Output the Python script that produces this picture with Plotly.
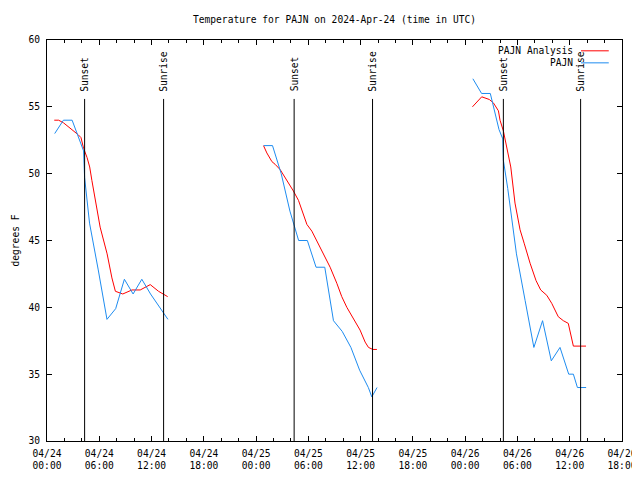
import plotly.graph_objects as go

# ---------------- data ----------------
analysis_times_d1 = ["2024-04-24 00:50", "2024-04-24 01:20", "2024-04-24 01:54", "2024-04-24 02:30",
                     "2024-04-24 03:03", "2024-04-24 03:36", "2024-04-24 03:54", "2024-04-24 04:12",
                     "2024-04-24 04:36", "2024-04-24 04:54", "2024-04-24 05:09", "2024-04-24 05:33",
                     "2024-04-24 06:06", "2024-04-24 06:54", "2024-04-24 07:27", "2024-04-24 07:51",
                     "2024-04-24 08:42", "2024-04-24 09:45", "2024-04-24 10:42", "2024-04-24 11:51",
                     "2024-04-24 12:48", "2024-04-24 13:51"]
analysis_temps_d1 = [54.0, 54.0, 53.8, 53.5, 53.2, 52.9, 52.7, 51.9, 51.2, 50.5, 49.5, 48.0,
                     46.0, 44.0, 42.2, 41.2, 41.0, 41.3, 41.3, 41.7, 41.2, 40.8]

analysis_times_d2 = ["2024-04-25 00:51", "2024-04-25 01:14", "2024-04-25 01:49", "2024-04-25 02:11",
                     "2024-04-25 02:46", "2024-04-25 03:32", "2024-04-25 04:17", "2024-04-25 04:52",
                     "2024-04-25 05:15", "2024-04-25 05:50", "2024-04-25 06:24", "2024-04-25 06:58",
                     "2024-04-25 07:44", "2024-04-25 08:30", "2024-04-25 09:16", "2024-04-25 09:50",
                     "2024-04-25 10:25", "2024-04-25 11:22", "2024-04-25 11:56", "2024-04-25 12:31",
                     "2024-04-25 12:54", "2024-04-25 13:24", "2024-04-25 13:52"]
analysis_temps_d2 = [52.1, 51.55, 50.9, 50.7, 50.3, 49.5, 48.7, 48.0, 47.3, 46.2, 45.7, 45.0,
                     44.0, 43.0, 41.8, 40.8, 40.0, 38.9, 38.3, 37.4, 37.0, 36.85, 36.85]

analysis_times_d3 = ["2024-04-26 00:50", "2024-04-26 01:54", "2024-04-26 02:46", "2024-04-26 03:14",
                     "2024-04-26 03:49", "2024-04-26 04:00", "2024-04-26 04:23", "2024-04-26 04:50",
                     "2024-04-26 05:14", "2024-04-26 05:43", "2024-04-26 06:18", "2024-04-26 06:46",
                     "2024-04-26 07:27", "2024-04-26 08:08", "2024-04-26 08:40", "2024-04-26 09:22",
                     "2024-04-26 09:56", "2024-04-26 10:41", "2024-04-26 11:16", "2024-04-26 11:50",
                     "2024-04-26 12:25", "2024-04-26 13:52"]
analysis_temps_d3 = [55.0, 55.75, 55.55, 55.3, 54.7, 54.0, 53.2, 51.9, 50.5, 47.8, 45.8, 44.8,
                     43.3, 42.0, 41.3, 40.9, 40.3, 39.3, 39.0, 38.8, 37.1, 37.1]

obs_times_d1 = ["2024-04-24 00:53", "2024-04-24 01:53", "2024-04-24 02:53", "2024-04-24 03:53",
                "2024-04-24 04:12", "2024-04-24 04:19", "2024-04-24 04:53", "2024-04-24 05:53",
                "2024-04-24 06:53", "2024-04-24 07:53", "2024-04-24 08:53", "2024-04-24 09:53",
                "2024-04-24 10:53", "2024-04-24 11:53", "2024-04-24 12:53", "2024-04-24 13:53"]
obs_temps_d1 = [53.0, 54.0, 54.0, 52.3, 51.7, 49.7, 46.3, 42.8, 39.1, 39.9, 42.1, 41.0,
                42.1, 41.0, 40.0, 39.1]

obs_times_d2 = ["2024-04-25 00:53", "2024-04-25 01:53", "2024-04-25 02:53", "2024-04-25 03:53",
                "2024-04-25 04:53", "2024-04-25 05:53", "2024-04-25 06:53", "2024-04-25 07:53",
                "2024-04-25 08:53", "2024-04-25 09:53", "2024-04-25 10:53", "2024-04-25 11:53",
                "2024-04-25 12:53", "2024-04-25 13:17", "2024-04-25 13:53"]
obs_temps_d2 = [52.1, 52.1, 50.0, 47.2, 45.0, 45.0, 43.0, 43.0, 39.0, 38.2, 37.0, 35.3,
                34.0, 33.3, 34.0]

obs_times_d3 = ["2024-04-26 00:53", "2024-04-26 01:53", "2024-04-26 02:53", "2024-04-26 03:53",
                "2024-04-26 04:19", "2024-04-26 04:23", "2024-04-26 04:53", "2024-04-26 05:53",
                "2024-04-26 06:53", "2024-04-26 07:53", "2024-04-26 08:53", "2024-04-26 09:53",
                "2024-04-26 10:53", "2024-04-26 11:53", "2024-04-26 12:25", "2024-04-26 12:53",
                "2024-04-26 13:53"]
obs_temps_d3 = [57.1, 56.0, 56.0, 53.3, 52.6, 51.0, 48.9, 44.0, 40.5, 37.0, 39.0, 36.0,
                37.0, 35.0, 35.0, 34.0, 34.0]

sunset_times = ["2024-04-24 04:19", "2024-04-25 04:22", "2024-04-26 04:23"]
sunrise_times = ["2024-04-24 13:23", "2024-04-25 13:22", "2024-04-26 13:15"]

tick_times = ["2024-04-24 00:00", "2024-04-24 06:00", "2024-04-24 12:00", "2024-04-24 18:00",
              "2024-04-25 00:00", "2024-04-25 06:00", "2024-04-25 12:00", "2024-04-25 18:00",
              "2024-04-26 00:00", "2024-04-26 06:00", "2024-04-26 12:00", "2024-04-26 18:00"]
tick_labels = ["04/24<br>00:00", "04/24<br>06:00", "04/24<br>12:00", "04/24<br>18:00",
               "04/25<br>00:00", "04/25<br>06:00", "04/25<br>12:00", "04/25<br>18:00",
               "04/26<br>00:00", "04/26<br>06:00", "04/26<br>12:00", "04/26<br>18:00"]

title_text = "Temperature for PAJN on 2024-Apr-24 (time in UTC)"
y_title = "degrees F"
series_names = ["PAJN Analysis", "PAJN"]
series_colors = ["#ff0000", "#1e8cf0"]

# ---------------- figure ----------------
FONT = "DejaVu Sans Mono"
FS = 9.6
W, H = 632, 472   # page body has an 8px margin in the 640x480 window


def join(*segs):
    xs, ys = [], []
    for t, v in segs:
        if xs:
            xs.append(None)
            ys.append(None)
        xs += t
        ys += v
    return xs, ys


ax, ay = join((analysis_times_d1, analysis_temps_d1), (analysis_times_d2, analysis_temps_d2),
              (analysis_times_d3, analysis_temps_d3))
ox, oy = join((obs_times_d1, obs_temps_d1), (obs_times_d2, obs_temps_d2),
              (obs_times_d3, obs_temps_d3))

fig = go.Figure()
fig.add_trace(go.Scatter(x=ax, y=ay, mode="lines", name=series_names[0],
                         line=dict(color=series_colors[0], width=1), connectgaps=False))
fig.add_trace(go.Scatter(x=ox, y=oy, mode="lines", name=series_names[1],
                         line=dict(color=series_colors[1], width=1), connectgaps=False))

LINE_TOP = 0.853
shapes = []
annotations = []
for times, label in ((sunset_times, "Sunset"), (sunrise_times, "Sunrise")):
    for t in times:
        shapes.append(dict(type="line", xref="x", yref="paper", x0=t, x1=t, y0=0, y1=LINE_TOP,
                           line=dict(color="black", width=1)))
        annotations.append(dict(text=label, xref="x", yref="paper", x=t, y=LINE_TOP + 0.013,
                                xanchor="center", yanchor="bottom", textangle=-90,
                                showarrow=False, font=dict(family=FONT, size=FS, color="black")))

# manual legend (text right-aligned, sample to the right, like gnuplot)
leg_y = [0.975, 0.945]
for name, color, yy in zip(series_names, series_colors, leg_y):
    annotations.append(dict(text=name, xref="paper", yref="paper", x=0.9175, y=yy,
                            xanchor="right", yanchor="middle", showarrow=False,
                            font=dict(family=FONT, size=FS, color="black")))
    shapes.append(dict(type="line", xref="paper", yref="paper", x0=0.9287, x1=0.977,
                       y0=yy - 0.002, y1=yy - 0.002, line=dict(color=color, width=1)))

annotations.append(dict(text=y_title, xref="paper", yref="paper", x=0, y=0.5, xshift=-32,
                        xanchor="center", yanchor="middle", textangle=-90, showarrow=False,
                        font=dict(family=FONT, size=FS, color="black")))

fig.update_layout(
    width=W, height=H,
    margin=dict(l=39, r=18, t=32, b=39, autoexpand=False),
    paper_bgcolor="white", plot_bgcolor="white",
    showlegend=False,
    title=dict(text=title_text, x=0.5, xref="paper", xanchor="center",
               y=1 - 12 / H, yanchor="middle", automargin=False,
               font=dict(family=FONT, size=FS, color="black")),
    font=dict(family=FONT, size=FS, color="black"),
    shapes=shapes,
    annotations=annotations,
)
fig.update_xaxes(
    type="date", range=["2024-04-24 00:00", "2024-04-26 18:00"],
    tickvals=tick_times, ticktext=tick_labels, automargin=False,
    ticks="inside", ticklen=5, tickcolor="black", tickwidth=1, ticklabelstandoff=3,
    showline=True, linecolor="black", linewidth=1, mirror="ticks",
    showgrid=False, zeroline=False,
    tickfont=dict(family=FONT, size=FS, color="black"),
    minor=dict(dtick=2 * 3600 * 1000, tick0="2024-04-24 00:00", ticks="inside", ticklen=3,
               tickcolor="black", showgrid=False),
)
fig.update_yaxes(
    range=[30, 60], dtick=5, tick0=30, automargin=False,
    ticks="inside", ticklen=5, tickcolor="black", tickwidth=1, ticklabelstandoff=4,
    showline=True, linecolor="black", linewidth=1, mirror="ticks",
    showgrid=False, zeroline=False,
    tickfont=dict(family=FONT, size=FS, color="black"),
)

fig.write_html("out.html")
